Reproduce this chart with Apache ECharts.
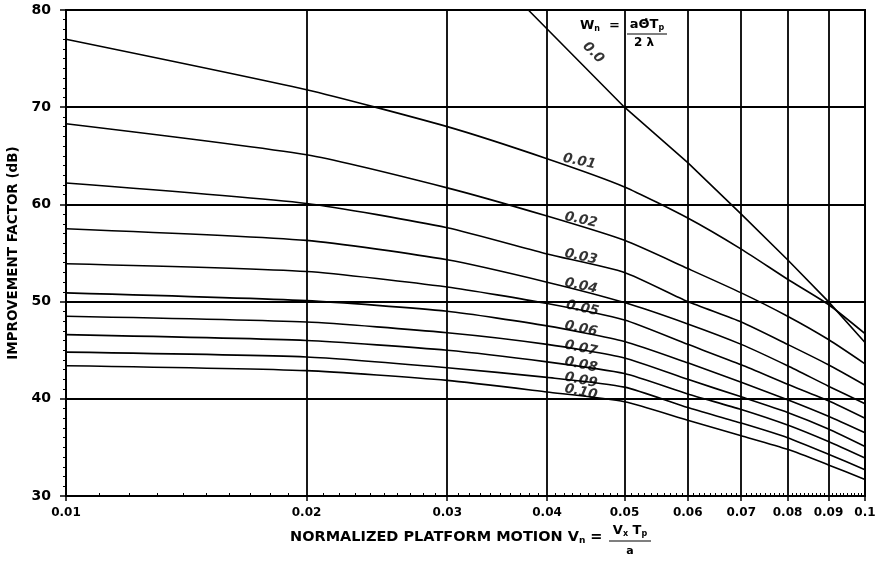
<!DOCTYPE html>
<html><head><meta charset="utf-8">
<script src="https://cdn.jsdelivr.net/npm/echarts@6/dist/echarts.min.js"></script>
<style>html,body{margin:0;padding:0;background:#fff}#c{width:889px;height:570px}</style>
</head><body><div id="c"></div>
<script>
// ---- data ----
const vnTicks = [0.01, 0.02, 0.03, 0.04, 0.05, 0.06, 0.07, 0.08, 0.09, 0.1];
const vnTickLabels = ['0.01', '0.02', '0.03', '0.04', '0.05', '0.06', '0.07', '0.08', '0.09', '0.1'];
const dbTicks = [30, 40, 50, 60, 70, 80];

const curveVn = [0.01, 0.02, 0.03, 0.04, 0.05, 0.06, 0.07, 0.08, 0.09, 0.1];
const w001 = [77.0, 71.8, 68.0, 64.7, 61.8, 58.6, 55.4, 52.3, 49.7, 46.7];
const w002 = [68.3, 65.1, 61.7, 58.8, 56.3, 53.4, 50.9, 48.5, 46.1, 43.6];
const w003 = [62.2, 60.1, 57.6, 54.9, 53.0, 50.0, 47.9, 45.6, 43.5, 41.4];
const w004 = [57.5, 56.3, 54.3, 52.0, 49.9, 47.7, 45.6, 43.4, 41.3, 39.5];
const w005 = [53.9, 53.1, 51.5, 49.8, 48.1, 45.6, 43.5, 41.5, 39.8, 38.0];
const w006 = [50.9, 50.1, 49.0, 47.5, 45.9, 43.7, 41.7, 39.9, 38.2, 36.5];
const w007 = [48.5, 47.9, 46.8, 45.6, 44.2, 42.0, 40.2, 38.6, 36.9, 35.1];
const w008 = [46.6, 46.0, 45.0, 43.8, 42.6, 40.5, 38.9, 37.3, 35.6, 33.9];
const w009 = [44.8, 44.3, 43.2, 42.2, 41.2, 39.1, 37.5, 36.0, 34.3, 32.7];
const w010 = [43.4, 42.9, 41.9, 40.7, 39.7, 37.8, 36.2, 34.8, 33.2, 31.7];

const w000Vn = [0.0379, 0.05, 0.06, 0.07, 0.08, 0.09, 0.1];
const w000Db = [80.0, 70.0, 64.3, 59.0, 54.3, 50.0, 45.8];

const curveNames = ['0.01', '0.02', '0.03', '0.04', '0.05', '0.06', '0.07', '0.08', '0.09', '0.10'];
const curveValues = [w001, w002, w003, w004, w005, w006, w007, w008, w009, w010];

const labelNames = ['0.0', '0.01', '0.02', '0.03', '0.04', '0.05', '0.06', '0.07', '0.08', '0.09', '0.10'];
const labelVn = [0.0457, 0.0439, 0.0441, 0.0441, 0.0441, 0.0443, 0.0441, 0.0441, 0.0441, 0.0441, 0.0441];
const labelDb = [75.6, 64.4, 58.4, 54.6, 51.6, 49.3, 47.2, 45.2, 43.5, 41.9, 40.7];

// minor tick positions along the bottom axis (every 0.001)
const minorVn = [];
for (let k = 11; k < 100; k++) { if (k % 10 !== 0) minorVn.push(k / 1000); }

// ---- chart ----
const chart = echarts.init(document.getElementById('c'), null, { renderer: 'canvas' });
const FONT = 'DejaVu Sans';
const lineStyle = { color: '#000', width: 1.6 };

const series = [];
series.push({
  name: '0.0', type: 'line', data: w000Vn.map((v, i) => [v, w000Db[i]]),
  showSymbol: false, symbol: 'none', lineStyle: lineStyle, silent: true, z: 3,
  markLine: {
    silent: true, symbol: 'none', label: { show: false },
    lineStyle: { color: '#000', width: 1.8, type: 'solid' },
    data: vnTicks.slice(1, -1).map(v => ({ xAxis: v }))
  }
});
curveValues.forEach((vals, ci) => {
  series.push({
    name: curveNames[ci], type: 'line', data: curveVn.map((v, i) => [v, vals[i]]),
    showSymbol: false, symbol: 'none', smooth: 0.2,
    lineStyle: lineStyle, silent: true, z: 3
  });
});
series.push({
  type: 'scatter', symbolSize: 0, silent: true, z: 5,
  data: labelNames.map((n, i) => ({
    name: n, value: [labelVn[i], labelDb[i]],
    label: i === 0 ? { rotate: -45 } : undefined
  })),
  label: {
    show: true, position: 'inside', formatter: '{b}', rotate: -12,
    fontFamily: FONT, fontStyle: 'italic', fontWeight: 'bold', fontSize: 13.5, color: '#000'
  }
});

function fmtVn(v) {
  let best = 0, bd = Infinity;
  vnTicks.forEach((t, i) => { const d = Math.abs(Math.log(v) - Math.log(t)); if (d < bd) { bd = d; best = i; } });
  return vnTickLabels[best];
}

const option = {
  animation: false,
  backgroundColor: '#fff',
  grid: { left: 66, right: 24, top: 10, bottom: 74, outerBoundsMode: 'none', containLabel: false,
          show: true, borderColor: '#000', borderWidth: 2, backgroundColor: 'transparent' },
  xAxis: [{
    type: 'log', logBase: 10, min: 0.01, max: 0.1,
    axisLine: { show: true, lineStyle: { color: '#000', width: 2 } },
    axisTick: { show: true, customValues: vnTicks, length: 5, lineStyle: { color: '#000', width: 1.5 } },
    axisLabel: { show: true, customValues: vnTicks, formatter: fmtVn, margin: 11, fontFamily: FONT, fontWeight: 'bold', fontSize: 12, color: '#000' },
    splitLine: { show: false },
    minorTick: { show: false }
  }, {
    type: 'log', logBase: 10, min: 0.01, max: 0.1, position: 'bottom',
    axisLine: { show: false },
    axisTick: { show: true, inside: true, customValues: minorVn, length: 3, lineStyle: { color: '#000', width: 1 } },
    axisLabel: { show: false },
    splitLine: { show: false }
  }],
  yAxis: {
    type: 'value', min: 30, max: 80, interval: 10,
    name: 'IMPROVEMENT FACTOR (dB)', nameLocation: 'middle', nameRotate: 90, nameGap: 45,
    nameTextStyle: { fontFamily: FONT, fontWeight: 'bold', fontSize: 13.5, color: '#000' },
    axisLine: { show: true, lineStyle: { color: '#000', width: 2 } },
    axisTick: { show: true, length: 6, lineStyle: { color: '#000', width: 1.5 } },
    minorTick: { show: true, splitNumber: 10, length: 3, lineStyle: { color: '#000', width: 1 } },
    axisLabel: { fontFamily: FONT, fontWeight: 'bold', fontSize: 14, color: '#000', margin: 15 },
    splitLine: { show: true, lineStyle: { color: '#000', width: 1.8 } }
  },
  series: series,
  graphic: [
    {
      type: 'text', left: 290, top: 530,
      style: {
        text: 'NORMALIZED PLATFORM MOTION V{s|n} =',
        font: 'bold 14.5px ' + FONT, fill: '#000',
        rich: { s: { fontSize: 9, fontWeight: 'bold', fontFamily: FONT, verticalAlign: 'bottom', padding: [6, 0, 0, 0] } }
      }
    },
    {
      type: 'text', x: 630, y: 531,
      style: {
        text: 'V{s|x} T{s|p}', font: 'bold 13px ' + FONT, fill: '#000', align: 'center', verticalAlign: 'middle',
        rich: { s: { fontSize: 8, fontWeight: 'bold', fontFamily: FONT, verticalAlign: 'bottom', padding: [5, 0, 0, 0] } }
      }
    },
    { type: 'line', shape: { x1: 609, y1: 541, x2: 651, y2: 541 }, style: { stroke: '#000', lineWidth: 1.2 } },
    { type: 'text', x: 630, y: 551, style: { text: 'a', font: 'bold 11px ' + FONT, fill: '#000', align: 'center', verticalAlign: 'middle' } },
    {
      type: 'text', x: 580, y: 26,
      style: {
        text: 'W{s|n}  =', font: 'bold 13px ' + FONT, fill: '#000', verticalAlign: 'middle',
        rich: { s: { fontSize: 8, fontWeight: 'bold', fontFamily: FONT, verticalAlign: 'bottom', padding: [6, 0, 0, 0] } }
      }
    },
    {
      type: 'text', x: 647, y: 25,
      style: {
        text: 'a\u0398\u0307T{s|p}', font: 'bold 13px ' + FONT, fill: '#000', align: 'center', verticalAlign: 'middle',
        rich: { s: { fontSize: 8, fontWeight: 'bold', fontFamily: FONT, verticalAlign: 'bottom', padding: [5, 0, 0, 0] } }
      }
    },
    { type: 'line', shape: { x1: 627, y1: 34, x2: 667, y2: 34 }, style: { stroke: '#000', lineWidth: 1.2 } },
    { type: 'text', x: 644, y: 43, style: { text: '2 \u03bb', font: 'bold 12px ' + FONT, fill: '#000', align: 'center', verticalAlign: 'middle' } }
  ]
};
chart.setOption(option);
</script>
</body></html>
